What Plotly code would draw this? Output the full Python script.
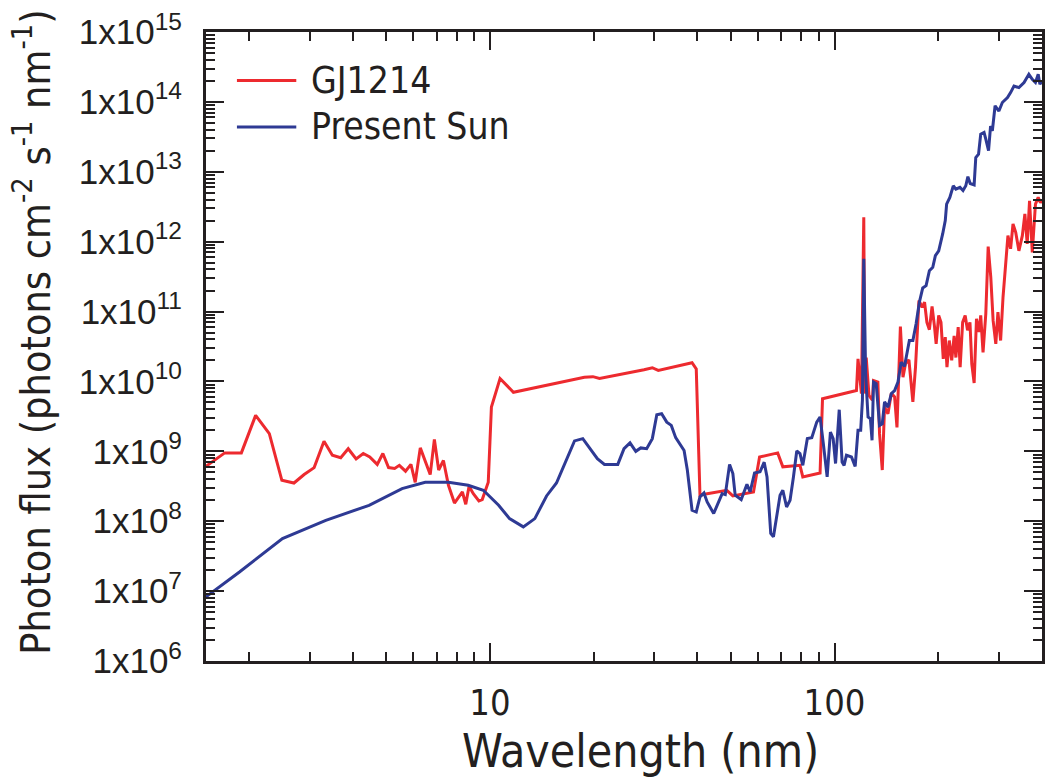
import plotly.graph_objects as go

# GJ1214 spectrum: wavelength (nm) and photon flux (photons cm-2 s-1 nm-1)
gj_wavelength = [
    1.5, 1.70, 1.90, 2.09, 2.29, 2.49, 2.70, 2.89, 3.09, 3.30, 3.49, 3.69, 3.88,
    4.09, 4.29, 4.48, 4.71, 4.89, 5.08, 5.29, 5.46, 5.69, 5.90, 6.07, 6.28, 6.71,
    6.90, 7.10, 7.33, 7.58, 7.89, 8.32, 8.51, 8.70, 8.95, 9.29, 9.50, 9.89, 10.1,
    10.7, 11.7, 18.8, 19.9, 20.8, 28.0, 29.6, 30.8, 38.6, 39.7, 40.7, 42.7, 48.7,
    50.7, 58.2, 60.6, 68.4, 70.8, 79.4, 80.9, 90.8, 92.3, 115.8, 117.0, 119.7,
    121.6, 122.4, 123.6, 125.9, 128.8, 129.8, 133.6, 135.1, 137.6, 139.7, 142.9,
    146.2, 149.4, 151.8, 155.3, 158.0, 160.7, 164.4, 168.8, 171.8, 175.8, 179.6,
    182.5, 185.4, 188.5, 191.9, 194.9, 197.2, 200.6, 203.7, 206.8, 209.6, 212.0,
    215.3, 218.8, 222.4, 225.0, 228.5, 231.5, 235.4, 239.4, 243.2, 247.2, 250.2,
    254.2, 258.2, 262.8, 265.6, 269.8, 274.8, 279.2, 284.1, 288.6, 293.8, 298.0,
    303.4, 308.3, 314.0, 318.6, 324.3, 329.6, 335.6, 342.8, 350.8, 356.8, 362.4,
    368.1, 374.9, 382.9, 390.0, 396.0, 400.0,
]
gj_flux = [
    6.1e8, 9.5e8, 9.5e8, 3.27e9, 1.79e9, 3.85e8, 3.52e8, 4.65e8, 5.85e8, 1.39e9,
    8.8e8, 8.1e8, 1.09e9, 7.8e8, 9.3e8, 8.3e8, 6.5e8, 9.3e8, 5.85e8, 5.7e8, 6.3e8,
    5.2e8, 6.5e8, 3.6e8, 1.12e9, 4.65e8, 1.48e9, 5.4e8, 7.4e8, 3.27e8, 1.82e8,
    2.62e8, 1.75e8, 3.16e8, 2.48e8, 1.95e8, 2.04e8, 3.6e8, 4.3e9, 1.1e10, 7.0e9,
    1.15e10, 1.17e10, 1.1e10, 1.47e10, 1.57e10, 1.44e10, 1.85e10, 1.51e10, 2.35e8,
    2.48e8, 2.77e8, 2.3e8, 2.62e8, 8.3e8, 9.5e8, 6.0e8, 6.3e8, 4.3e8, 4.9e8,
    5.65e9, 7.4e9, 2.1e10, 6.7e9, 2.23e12, 6.7e9, 2.2e10, 6.3e9, 5.4e9, 1.03e10,
    9.8e9, 1.79e9, 5.4e8, 4.3e9, 3.45e9, 6.8e9, 6.0e9, 2.2e9, 6.1e10, 1.15e10,
    1.79e10, 2.04e10, 5.1e9, 1.6e10, 1.44e11, 1.15e11, 1.36e11, 7.0e10, 5.5e10,
    1.18e11, 6.3e10, 3.45e10, 8.8e10, 7.0e10, 2.1e10, 4.3e10, 1.6e10, 3.85e10,
    2.0e10, 4.5e10, 2.2e10, 6.0e10, 1.6e10, 7.0e10, 8.8e10, 5.4e10, 7.0e10,
    1.79e10, 9.5e9, 7.9e10, 5.1e10, 8.8e10, 2.6e10, 9.3e10, 8.5e11, 3.1e11,
    7.4e10, 3.45e10, 9.8e10, 3.85e10, 1.6e11, 5.1e11, 1.22e12, 7.9e11, 1.79e12,
    1.36e12, 7.4e11, 1.22e12, 2.5e12, 9.3e11, 3.85e12, 7.0e11, 3.45e12, 4.3e12,
    3.6e12, 4.0e12,
]

# Present-day Sun spectrum
sun_wavelength = [
    1.5, 1.88, 2.50, 3.34, 4.46, 5.56, 6.49, 7.58, 8.65, 9.57, 10.6, 11.4, 12.5,
    13.5, 14.6, 15.6, 17.6, 18.6, 20.5, 21.5, 23.5, 24.5, 25.5, 26.5, 27.4, 28.5,
    29.6, 30.5, 31.5, 32.6, 33.6, 34.6, 36.6, 37.4, 38.6, 39.7, 40.7, 41.8, 42.7,
    44.6, 47.2, 48.2, 49.6, 50.7, 51.5, 53.6, 55.7, 56.9, 58.6, 60.8, 62.5, 63.7,
    65.3, 66.5, 69.5, 70.8, 72.6, 74.3, 76.0, 77.7, 79.4, 80.9, 83.4, 85.9, 88.8,
    90.8, 92.8, 95.2, 97.3, 99.1, 100.7, 103.2, 105.2, 106.6, 108.3, 112.0, 114.8,
    117.0, 119.1, 120.5, 121.6, 123.1, 125.1, 127.1, 128.5, 129.8, 132.1, 135.1,
    137.6, 139.7, 142.9, 146.2, 149.4, 152.8, 156.1, 159.6, 164.9, 168.8, 172.5,
    176.3, 180.3, 184.4, 188.5, 192.8, 196.2, 200.6, 206.0, 209.6, 211.5, 216.1,
    221.1, 225.0, 231.2, 236.0, 240.4, 243.8, 247.6, 254.2, 257.0, 261.8, 265.6,
    271.6, 274.8, 279.9, 283.7, 287.1, 292.4, 300.0, 306.9, 317.7, 324.3, 331.7,
    342.8, 354.8, 366.4, 374.9, 382.9, 390.0, 394.4, 400.0,
]
sun_flux = [
    8.3e6, 1.89e7, 5.65e7, 1.03e8, 1.69e8, 2.93e8, 3.6e8, 3.6e8, 3.27e8, 2.77e8,
    1.69e8, 1.09e8, 8.3e7, 1.09e8, 2.3e8, 3.52e8, 1.41e9, 1.52e9, 7.85e8, 6.5e8,
    6.5e8, 1.09e9, 1.32e9, 1.0e9, 1.12e9, 1.09e9, 1.52e9, 3.34e9, 3.45e9, 2.62e9,
    2.35e9, 1.57e9, 1.03e9, 5.4e8, 1.44e8, 1.36e8, 2.23e8, 2.54e8, 1.89e8, 1.29e8,
    2.48e8, 2.4e8, 6.5e8, 4.8e8, 2.35e8, 2.04e8, 3.38e8, 2.62e8, 4.9e8, 5.1e8,
    7.0e8, 4.3e8, 6.7e7, 6.0e7, 2.35e8, 2.77e8, 1.6e8, 2.0e8, 4.3e8, 1.01e9,
    9.3e8, 6.3e8, 1.52e9, 1.57e9, 2.62e9, 3.1e9, 1.29e9, 4.3e8, 1.89e9, 1.52e9,
    6.7e8, 3.94e9, 7.0e8, 6.3e8, 8.8e8, 8.3e8, 6.1e8, 2.0e9, 2.0e9, 5.4e9, 5.7e11,
    1.29e10, 3.1e9, 2.93e9, 1.44e9, 9.8e9, 9.3e9, 2.35e9, 2.48e9, 5.1e9, 4.3e9,
    6.7e9, 7.4e9, 9.8e9, 1.89e10, 1.64e10, 3.85e10, 3.85e10, 6.7e10, 1.36e11,
    2.18e11, 2.35e11, 3.85e11, 4.3e11, 6.3e11, 7.4e11, 1.29e12, 2.0e12, 3.45e12,
    4.3e12, 6.3e12, 5.65e12, 6.0e12, 5.4e12, 6.3e12, 8.5e12, 6.8e12, 6.5e12,
    1.6e13, 1.79e13, 3.45e13, 3.65e13, 2.93e13, 2.0e13, 4.5e13, 3.85e13, 8.8e13,
    7.4e13, 9.8e13, 1.15e14, 1.36e14, 1.69e14, 1.6e14, 1.89e14, 2.48e14, 2.1e14,
    1.89e14, 2.48e14, 1.79e14, 2.0e14,
]

series_names = ["GJ1214", "Present Sun"]
series_colors = ["#ED2A2F", "#2E3A94"]

x_major = [10, 100]
x_major_text = ["10", "100"]
x_minor = [2, 3, 4, 5, 6, 7, 8, 9, 20, 30, 40, 50, 60, 70, 80, 90, 200, 300]
y_exponents = list(range(6, 16))
y_major = [10.0 ** e for e in y_exponents]
y_major_text = ["1x10<sup>%d</sup>" % e for e in y_exponents]
y_minor = [m * 10.0 ** e for e in range(6, 15) for m in range(2, 10)]

x_title = "Wavelength (nm)"
y_title = "Photon flux (photons cm<sup>-2</sup> s<sup>-1</sup> nm<sup>-1</sup>)"

INK = "#231F20"
TICK_FONT = "Liberation Sans, Arial, sans-serif"
TITLE_FONT = "DejaVu Sans Condensed, Liberation Sans Narrow, sans-serif"

fig = go.Figure()
fig.add_trace(go.Scatter(x=gj_wavelength, y=gj_flux, mode="lines", name=series_names[0],
                         line=dict(color=series_colors[0], width=3), showlegend=False))
fig.add_trace(go.Scatter(x=sun_wavelength, y=sun_flux, mode="lines", name=series_names[1],
                         line=dict(color=series_colors[1], width=3), showlegend=False))

axis_common = dict(
    type="log", showgrid=False, zeroline=False,
    showline=True, linecolor=INK, linewidth=3, mirror="allticks",
    ticks="inside", ticklen=18, tickwidth=1.5, tickcolor=INK,
)

fig.update_xaxes(
    **axis_common,
    range=[0.1761, 2.6021],
    tickmode="array", tickvals=x_major, ticktext=x_major_text,
    ticklabelstandoff=8,
    tickfont=dict(family=TITLE_FONT, size=36, color=INK),
    minor=dict(tickmode="array", tickvals=x_minor, ticks="inside", ticklen=9,
               tickwidth=1.5, tickcolor=INK),
)
fig.update_yaxes(
    **axis_common,
    range=[6, 15],
    tickmode="array", tickvals=y_major, ticktext=y_major_text,
    ticklabelstandoff=14,
    tickfont=dict(family=TICK_FONT, size=35, color=INK),
    minor=dict(tickmode="array", tickvals=y_minor, ticks="inside", ticklen=9,
               tickwidth=1.5, tickcolor=INK),
)

# axis titles placed as paper-anchored text
fig.add_annotation(xref="paper", yref="paper", x=0.52, y=-0.143, text=x_title,
                   showarrow=False, xanchor="center", yanchor="middle",
                   font=dict(family=TITLE_FONT, size=46, color=INK))
fig.add_annotation(xref="paper", yref="paper", x=-0.208, y=0.522, text=y_title,
                   showarrow=False, xanchor="center", yanchor="middle", textangle=-90,
                   font=dict(family=TITLE_FONT, size=41, color=INK))

# legend drawn as short line samples with labels in the upper-left corner
legend_y = [0.923, 0.849]
for name, color, yy in zip(series_names, series_colors, legend_y):
    fig.add_shape(type="line", xref="paper", yref="paper",
                  x0=0.037, x1=0.108, y0=yy, y1=yy,
                  line=dict(color=color, width=3))
    fig.add_annotation(xref="paper", yref="paper", x=0.123, y=yy, text=name,
                       showarrow=False, xanchor="left", yanchor="middle",
                       font=dict(family=TITLE_FONT, size=37, color=INK))

fig.update_layout(
    width=1053, height=780,
    margin=dict(l=206, r=8, t=31, b=119),
    paper_bgcolor="white", plot_bgcolor="white",
)

fig.write_html("out.html")
